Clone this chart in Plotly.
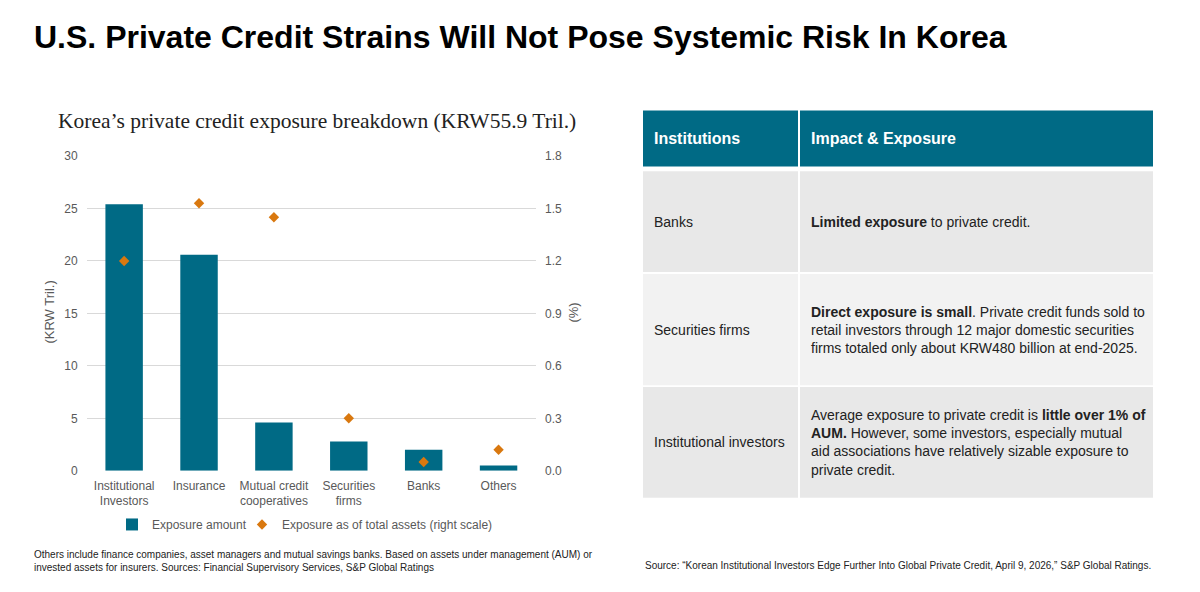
import plotly.graph_objects as go

# ---------------- data ----------------
categories = ["Institutional<br>Investors", "Insurance", "Mutual credit<br>cooperatives",
              "Securities<br>firms", "Banks", "Others"]
exposure_amount = [25.4, 20.6, 4.6, 2.8, 2.0, 0.5]          # KRW tril.
exposure_pct_assets = [1.2, 1.53, 1.45, 0.3, 0.05, 0.12]     # % (right scale)
left_ticks = [0, 5, 10, 15, 20, 25, 30]
right_ticks = [0.0, 0.3, 0.6, 0.9, 1.2, 1.5, 1.8]

table_header = ["Institutions", "Impact &amp; Exposure"]
table_institutions = ["Banks", "Securities firms", "Institutional investors"]
table_impact = [
    "<b>Limited exposure</b> to private credit.",
    "<b>Direct exposure is small</b>. Private credit funds sold to<br>"
    "retail investors through 12 major domestic securities<br>"
    "firms totaled only about KRW480 billion at end-2025.",
    "Average exposure to private credit is <b>little over 1% of<br>AUM.</b> However, some investors, especially mutual<br>"
    "aid associations have relatively sizable exposure to<br>private credit.",
]

title_text = "U.S. Private Credit Strains Will Not Pose Systemic Risk In Korea"
chart_title = "Korea\u2019s private credit exposure breakdown (KRW55.9 Tril.)"
note_left = ("Others include finance companies, asset managers and mutual savings banks. Based on assets under management (AUM) or<br>"
             "invested assets for insurers. Sources: Financial Supervisory Services, S&amp;P Global Ratings")
note_right = ("Source: \u201cKorean Institutional Investors Edge Further Into Global Private Credit, April 9, 2026,\u201d S&amp;P Global Ratings.")

# ---------------- styling ----------------
W, H = 1200, 592
TEAL = "#006A85"
ORANGE = "#D9780F"
GRAY_TXT = "#595959"
DARK = "#222222"
SANS = "Liberation Sans, Arial, sans-serif"
SERIF = "Liberation Serif, Times New Roman, serif"


def X(px):
    return px / W


def Y(py):
    return 1 - py / H


fig = go.Figure()
fig.add_trace(go.Bar(x=categories, y=exposure_amount, name="Exposure amount",
                     marker=dict(color=TEAL, line=dict(width=0)), legend="legend"))
fig.add_trace(go.Scatter(x=categories, y=exposure_pct_assets, yaxis="y2", mode="markers",
                         name="Exposure as of total assets (right scale)", legend="legend2",
                         marker=dict(symbol="diamond", size=8, color=ORANGE)))

legend_common = dict(orientation="h", xanchor="left", y=Y(530), yanchor="middle",
                     font=dict(size=12, color=GRAY_TXT), itemwidth=30, bgcolor="rgba(0,0,0,0)")

fig.update_layout(
    width=W, height=H,
    margin=dict(l=0, r=0, t=0, b=0),
    paper_bgcolor="white", plot_bgcolor="white",
    font=dict(family=SANS, color=GRAY_TXT, size=12),
    bargap=0.5,
    showlegend=True,
    legend=dict(x=X(112), **legend_common),
    legend2=dict(x=X(242), **legend_common),
    xaxis=dict(domain=[X(86.7), X(536)], showgrid=False, showline=False, zeroline=False,
               tickfont=dict(size=12, color=GRAY_TXT), ticks="", ticklabelstandoff=6),
    yaxis=dict(domain=[Y(475), Y(152.7)], range=[0, 30], tickvals=left_ticks,
               showgrid=True, gridcolor="#D9D9D9", gridwidth=1, zeroline=False, showline=False,
               tickfont=dict(size=12, color=GRAY_TXT), ticks="", ticklabelstandoff=8),
    yaxis2=dict(overlaying="y", side="right", range=[0, 1.8], tickvals=right_ticks,
                tickformat=".1f", showgrid=False, zeroline=False, showline=False,
                tickfont=dict(size=12, color=GRAY_TXT), ticks="", ticklabelstandoff=8),
)

ann = []
# main title
ann.append(dict(x=X(32), y=Y(31), xref="paper", yref="paper", xanchor="left", yanchor="middle",
                text="<b>" + title_text + "</b>", showarrow=False,
                font=dict(family=SANS, size=32, color="#000000")))
# chart title
ann.append(dict(x=X(56), y=Y(117), xref="paper", yref="paper", xanchor="left", yanchor="middle",
                text=chart_title, showarrow=False, font=dict(family=SERIF, size=21.5, color=DARK)))
# axis titles
ann.append(dict(x=X(50), y=Y(313), xref="paper", yref="paper", xanchor="center", yanchor="middle",
                text="(KRW Tril.)", textangle=-90, showarrow=False,
                font=dict(family=SANS, size=13, color=GRAY_TXT)))
ann.append(dict(x=X(574), y=Y(313), xref="paper", yref="paper", xanchor="center", yanchor="middle",
                text="(%)", textangle=-90, showarrow=False,
                font=dict(family=SANS, size=13, color=GRAY_TXT)))
# footnotes
ann.append(dict(x=X(32), y=Y(567), xref="paper", yref="paper", xanchor="left", yanchor="middle",
                text=note_left, showarrow=False, align="left",
                font=dict(family=SANS, size=10, color=DARK)))
ann.append(dict(x=X(643), y=Y(572), xref="paper", yref="paper", xanchor="left", yanchor="middle",
                text=note_right, showarrow=False, align="left",
                font=dict(family=SANS, size=10, color=DARK)))

# ---------------- table ----------------
shapes = []
col1 = (643, 798)
col2 = (800, 1153)
header_y = (106, 163.3)
rows_y = [(168.3, 271.5), (273.5, 387.3), (389.3, 502.7)]
row_fill = ["#E8E8E8", "#F2F2F2", "#E8E8E8"]


def rect(x0, x1, y0, y1, color):
    shapes.append(dict(type="rect", xref="paper", yref="paper", x0=X(x0), x1=X(x1),
                       y0=Y(y1), y1=Y(y0), fillcolor=color, line=dict(width=0), layer="below"))


for c in (col1, col2):
    rect(c[0], c[1], header_y[0], header_y[1], TEAL)
for (y0, y1), f in zip(rows_y, row_fill):
    for c in (col1, col2):
        rect(c[0], c[1], y0, y1, f)

hy = (header_y[0] + header_y[1]) / 2
ann.append(dict(x=X(652), y=Y(hy), xref="paper", yref="paper", xanchor="left", yanchor="middle",
                text="<b>" + table_header[0] + "</b>", showarrow=False,
                font=dict(family=SANS, size=16, color="white")))
ann.append(dict(x=X(809), y=Y(hy), xref="paper", yref="paper", xanchor="left", yanchor="middle",
                text="<b>" + table_header[1] + "</b>", showarrow=False,
                font=dict(family=SANS, size=16, color="white")))
for (y0, y1), inst, imp in zip(rows_y, table_institutions, table_impact):
    cy = (y0 + y1) / 2
    ann.append(dict(x=X(652), y=Y(cy), xref="paper", yref="paper", xanchor="left", yanchor="middle",
                    text=inst, showarrow=False, align="left",
                    font=dict(family=SANS, size=14, color=DARK)))
    ann.append(dict(x=X(809), y=Y(cy), xref="paper", yref="paper", xanchor="left", yanchor="middle",
                    text=imp, showarrow=False, align="left",
                    font=dict(family=SANS, size=14, color=DARK)))

fig.update_layout(annotations=ann, shapes=shapes)
fig.write_html("out.html")
